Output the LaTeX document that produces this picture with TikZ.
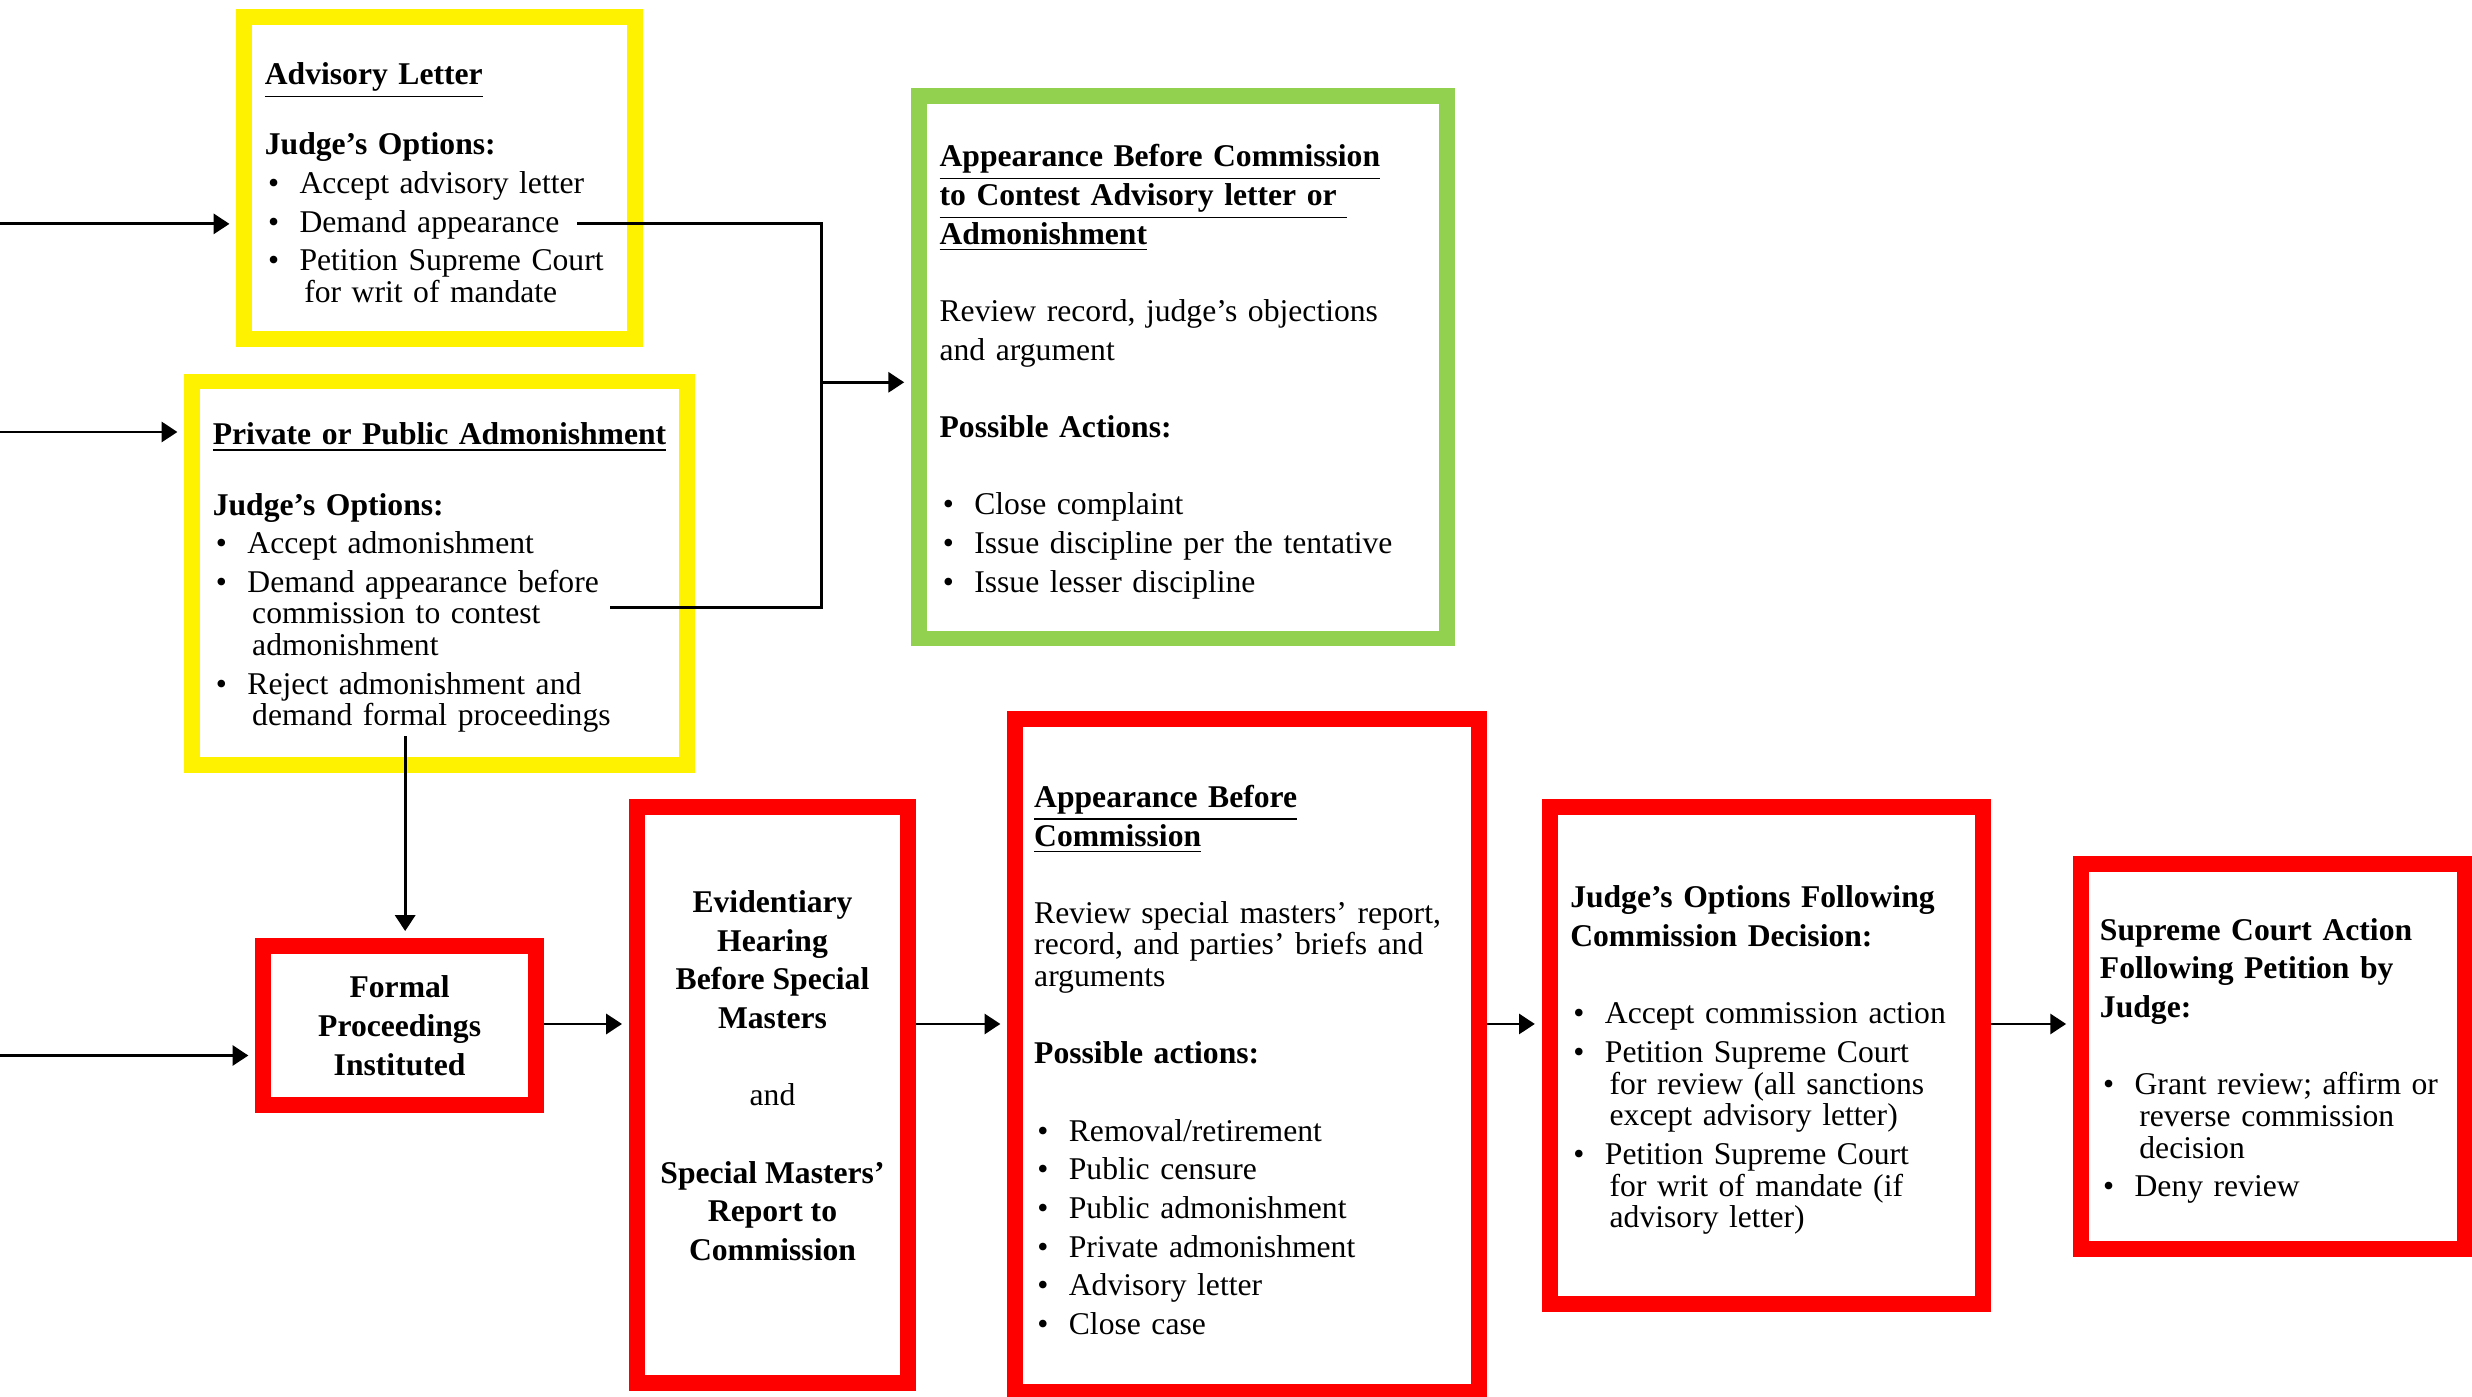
\documentclass[tikz,border=0pt]{standalone}
\usepackage{fontspec}
\setmainfont{Liberation Serif}
\usetikzlibrary{arrows.meta}
\definecolor{boxgreen}{HTML}{92D050}

\newdimen\pxu \pxu=0.4485pt
\newcommand{\bul}[1]{\mbox{\makebox[22\pxu][l]{\hspace{2\pxu}\textbullet}#1}}
\newcommand{\wrp}[1]{\mbox{\hspace*{25\pxu}#1}}

\begin{document}
\begin{tikzpicture}[x=0.4485pt, y=-0.4485pt,
    box/.style={rectangle, line width=10\pxu, inner ysep=0pt, align=left,
      font=\fontsize{9pt}{11pt}\selectfont},
    textbox/.style={box, execute at begin node={\rule{0pt}{8.9pt}}},
    yellowbox/.style={textbox, draw=yellow},
    greenbox/.style={textbox, draw=boxgreen},
    redbox/.style={box, draw=red},
    redtextbox/.style={textbox, draw=red},
    link/.style={line width=0.8pt},
    arr/.style={link, -{Triangle[length=4.5pt, width=5.7pt]}, shorten >=2pt}]

  \useasboundingbox (0,0) rectangle (1568,886);

  % judge's options after the tentative discipline
  \node[yellowbox, minimum width=248\pxu, minimum height=204\pxu, inner xsep=13\pxu, text width=222\pxu] (advisory) at (279,113) {%
    \underline{\textbf{Advisory Letter}}\\[9pt]
    \textbf{Judge’s Options:}\\
    \bul{Accept advisory letter}\\
    \bul{Demand appearance}\\
    \bul{Petition Supreme Court}\\[-2pt]
    \wrp{for writ of mandate}};

  \node[yellowbox, minimum width=314\pxu, minimum height=243\pxu, inner xsep=13\pxu, text width=288\pxu] (admonish) at (279,363.5) {%
    \underline{\textbf{Private or Public Admonishment}}\\[9pt]
    \textbf{Judge’s Options:}\\
    \bul{Accept admonishment}\\
    \bul{Demand appearance before}\\[-2pt]
    \wrp{commission to contest}\\[-2pt]
    \wrp{admonishment}\\
    \bul{Reject admonishment and}\\[-2pt]
    \wrp{demand formal proceedings}};

  \node[greenbox, minimum width=335\pxu, minimum height=344\pxu, inner xsep=13\pxu, text width=309\pxu] (contest) at (750.5,233) {%
    \underline{\textbf{Appearance Before Commission}}\\
    \underline{\textbf{to Contest Advisory letter or\ }}\\
    \underline{\textbf{Admonishment}}\\[11pt]
    \mbox{Review record, judge’s objections}\\
    and argument\\[11pt]
    \textbf{Possible Actions:}\\[11pt]
    \bul{Close complaint}\\
    \bul{Issue discipline per the tentative}\\
    \bul{Issue lesser discipline}};

  % formal proceedings
  \node[redbox, minimum width=173\pxu, minimum height=101\pxu, align=center, font=\fontsize{9pt}{11pt}\selectfont\bfseries] (formal) at (253.5,650.5) {%
    Formal\\ Proceedings\\ Instituted};

  \node[redbox, minimum width=172\pxu, minimum height=365\pxu, align=center] (hearing) at (490,694.5) {%
    \textbf{Evidentiary}\\ \textbf{Hearing}\\ \textbf{Before Special}\\ \textbf{Masters}\\[11pt]
    and\\[11pt]
    \textbf{Special Masters’}\\ \textbf{Report to}\\ \textbf{Commission}\\ \mbox{}};

  \node[redtextbox, minimum width=294\pxu, minimum height=427\pxu, inner xsep=12\pxu, text width=270\pxu] (appearance) at (791,669.5) {%
    \underline{\textbf{Appearance Before}}\\
    \underline{\textbf{Commission}}\\[11pt]
    \mbox{Review special masters’ report,}\\[-2pt]
    \mbox{record, and parties’ briefs and}\\[-2pt]
    arguments\\[11pt]
    \textbf{Possible actions:}\\[11pt]
    \bul{Removal/retirement}\\
    \bul{Public censure}\\
    \bul{Public admonishment}\\
    \bul{Private admonishment}\\
    \bul{Advisory letter}\\
    \bul{Close case}};

  \node[redtextbox, minimum width=275\pxu, minimum height=315\pxu, inner xsep=13\pxu, text width=249\pxu] (options) at (1120.5,669.5) {%
    \mbox{\textbf{Judge’s Options Following}}\\
    \textbf{Commission Decision:}\\[11pt]
    \bul{Accept commission action}\\
    \bul{Petition Supreme Court}\\[-2pt]
    \wrp{for review (all sanctions}\\[-2pt]
    \wrp{except advisory letter)}\\
    \bul{Petition Supreme Court}\\[-2pt]
    \wrp{for writ of mandate (if}\\[-2pt]
    \wrp{advisory letter)}};

  \node[redtextbox, minimum width=243.5\pxu, minimum height=244\pxu, inner xsep=12\pxu, text width=219.5\pxu] (supreme) at (1441.75,670) {%
    \mbox{\textbf{Supreme Court Action}}\\
    \mbox{\textbf{Following Petition by}}\\
    \textbf{Judge:}\\[11pt]
    \bul{Grant review; affirm or}\\[-2pt]
    \wrp{reverse commission}\\[-2pt]
    \wrp{decision}\\
    \bul{Deny review}};

  % connectors
  \coordinate (in1) at (0,142);
  \coordinate (in2) at (0,274);
  \coordinate (in3) at (0,669.5);
  \coordinate (advdemand) at (366,142);
  \coordinate (admdemand) at (387,385.4);
  \coordinate (join) at (521,242.5);
  \coordinate (reject) at (257,467);

  \draw[arr] (in1) -- (in1 -| advisory.west);
  \draw[arr] (in2) -- (in2 -| admonish.west);
  \draw[arr] (in3) -- (in3 -| formal.west);

  \draw[link] (advdemand) -| (join) |- (admdemand);
  \draw[arr] (join) -- (join -| contest.west);

  \draw[arr] (reject) -- (reject |- formal.north);
  \draw[arr] (formal.east |- 0,649.5) -- (0,649.5 -| hearing.west);
  \draw[arr] (hearing.east |- 0,649.5) -- (0,649.5 -| appearance.west);
  \draw[arr] (appearance.east |- 0,649.5) -- (0,649.5 -| options.west);
  \draw[arr] (options.east |- 0,649.5) -- (0,649.5 -| supreme.west);
\end{tikzpicture}
\end{document}
